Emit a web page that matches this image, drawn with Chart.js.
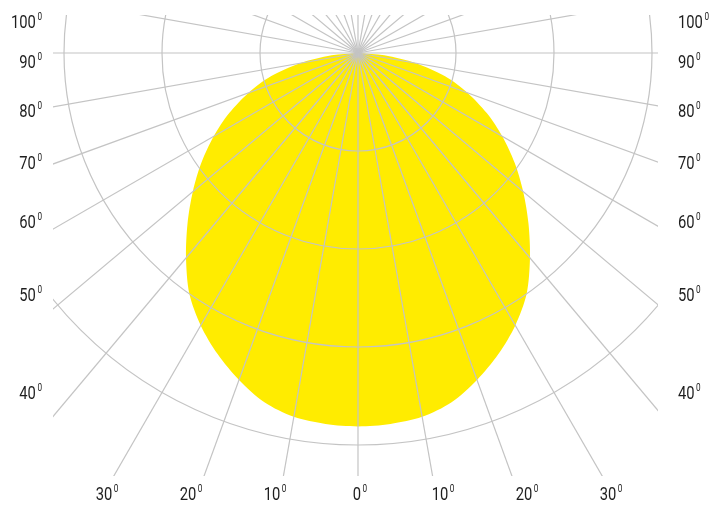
<!DOCTYPE html>
<html>
<head>
<meta charset="utf-8">
<script src="https://cdn.jsdelivr.net/npm/chart.js@4.4.1/dist/chart.umd.min.js"></script>
<style>
  html, body { margin: 0; padding: 0; background: #fff; }
  #polar { display: block; }
</style>
</head>
<body>
<canvas id="polar" width="709" height="508"></canvas>
<script>
// light distribution, one half (curve is symmetric), angle from nadir in degrees
const halfAngles = [0, 5, 10, 15, 20, 25, 30, 35, 40, 45, 50, 55, 60, 65, 70, 75, 80, 85, 90];
const halfIntensity = [381, 380, 377, 369, 355, 339, 321, 300, 273, 246, 220, 195, 170, 145, 119, 92, 60, 27, 0];

// grid rings and the degree labels printed round the chart
const rings = [100, 200, 300, 400];
const bottomTicks = [0, 10, 20, 30];
const sideTicks = [40, 50, 60, 70, 80, 90, 100];

// layout of the diagram (pixels)
const CENTER_X = 358;
const CENTER_Y = 53;
const PX_PER_UNIT = 0.98;
const SCALE_MAX = 600;
const GRID = '#c4c4c4';

// full circle every 5 degrees, mirrored from the half curve
const angleLabels = [];
const curve = [];
for (let a = 0; a < 360; a += 5) {
    angleLabels.push(a);
    let v = 0;
    if (a <= 90) v = halfIntensity[halfAngles.indexOf(a)];
    else if (a >= 270) v = halfIntensity[halfAngles.indexOf(360 - a)];
    curve.push(v);
}

const FONT = 'Roboto, "DejaVu Sans", sans-serif';

function drawDegree(ctx, value, x, y, align, sx) {
    const main = String(value);
    ctx.font = '18px ' + FONT;
    const wMain = ctx.measureText(main).width * sx;
    ctx.font = '10px ' + FONT;
    const wSup = ctx.measureText('0').width * sx;
    const total = wMain + 1.5 + wSup;
    let left = x;
    if (align === 'right') left = x - total;
    if (align === 'center') left = x - total / 2;

    ctx.save();
    ctx.translate(left, 0);
    ctx.scale(sx, 1);
    ctx.font = '18px ' + FONT;
    ctx.fillText(main, 0, y + 6.5);
    ctx.font = '10px ' + FONT;
    ctx.fillText('0', (wMain + 1.5) / sx, y - 1.5);
    ctx.restore();
}

const degreeLabels = {
    id: 'degreeLabels',
    beforeDraw(chart) {
        const { ctx, chartArea: a } = chart;
        ctx.save();
        ctx.beginPath();
        ctx.rect(a.left, a.top, a.right - a.left, a.bottom - a.top);
        ctx.clip();
    },
    afterDraw(chart) {
        const { ctx, chartArea: a } = chart;
        ctx.restore();

        ctx.save();
        ctx.fillStyle = '#1e1e1e';
        ctx.textAlign = 'left';
        ctx.textBaseline = 'alphabetic';
        ctx.font = '18px ' + FONT;
        // narrow the digits to the condensed look of the original
        const sx = Math.min(1, 8.3 / ctx.measureText('0').width);

        const xc = chart.scales.r.xCenter;
        const yc = chart.scales.r.yCenter;

        sideTicks.forEach(t => {
            let y = yc + 8 + 278 / Math.tan(t * Math.PI / 180);
            y = Math.max(y, a.top + 6.5);
            drawDegree(ctx, t, a.left - 11, y, 'right', sx);
            drawDegree(ctx, t, a.right + 20, y, 'left', sx);
        });

        const yb = a.bottom + 17.5;
        bottomTicks.forEach(t => {
            if (t === 0) {
                drawDegree(ctx, t, xc + 2, yb, 'center', sx);
            } else {
                drawDegree(ctx, t, xc + 1 - 8.4 * t, yb, 'center', sx);
                drawDegree(ctx, t, xc + 1 + 8.4 * t, yb, 'center', sx);
            }
        });
        ctx.restore();
    }
};

new Chart(document.getElementById('polar'), {
    type: 'radar',
    data: {
        labels: angleLabels,
        datasets: [{
            data: curve,
            backgroundColor: '#FFEC00',
            borderWidth: 0,
            pointRadius: 0,
            fill: 'origin',
            tension: 0.3
        }]
    },
    options: {
        responsive: false,
        animation: false,
        layout: { padding: { left: 53, top: 15, right: 51, bottom: 32 } },
        plugins: {
            legend: { display: false },
            tooltip: { enabled: false }
        },
        scales: {
            r: {
                min: 0,
                max: SCALE_MAX,
                startAngle: 180,
                ticks: { display: false, stepSize: 100 },
                pointLabels: { display: false },
                grid: {
                    circular: true,
                    z: 1,
                    lineWidth: 1.2,
                    color: ctx => (ctx.tick && rings.includes(ctx.tick.value)) ? GRID : 'rgba(0,0,0,0)'
                },
                angleLines: {
                    display: true,
                    lineWidth: 1.2,
                    color: ctx => (ctx.index % 2 === 0) ? GRID : 'rgba(0,0,0,0)'
                },
                afterFit: scale => {
                    scale.xCenter = CENTER_X;
                    scale.yCenter = CENTER_Y;
                    scale.drawingArea = SCALE_MAX * PX_PER_UNIT;
                }
            }
        }
    },
    plugins: [degreeLabels]
});
</script>
</body>
</html>
